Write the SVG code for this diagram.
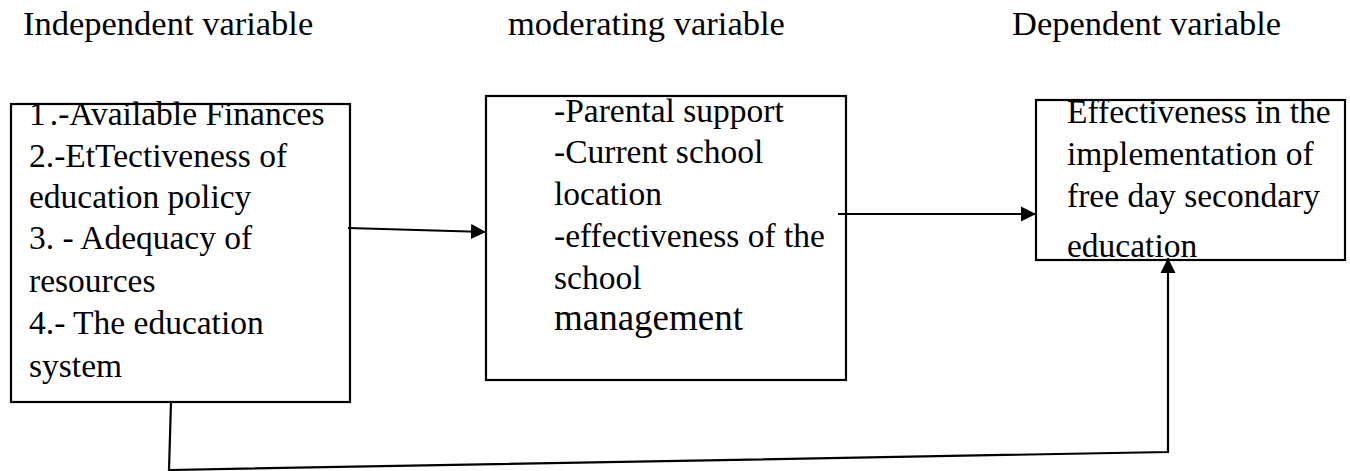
<svg xmlns="http://www.w3.org/2000/svg" width="1350" height="471" viewBox="0 0 1350 471">
  <style>
    .box { fill: #ffffff; stroke: #000000; stroke-width: 2.2; }
    .txt { font-family: "Liberation Serif", "Times New Roman", serif; font-size: 33.5px; fill: #000000; }
    .head { font-family: "Liberation Serif", "Times New Roman", serif; font-size: 34.5px; fill: #000000; }
    .big { font-size: 37px; }
    .conn { fill: none; stroke: #000000; stroke-width: 2.2; }
  </style>
  <defs>
    <marker id="arrow" markerUnits="userSpaceOnUse" markerWidth="16" markerHeight="16" viewBox="0 0 16 16" refX="15" refY="8" orient="auto">
      <path d="M0,0.5 L15,8 L0,15.5 Z" fill="#000000"/>
    </marker>
  </defs>

  <rect width="1350" height="471" fill="#ffffff"/>

  <!-- column headings -->
  <g id="headings">
    <text class="head" x="23" y="35">Independent variable</text>
    <text class="head" x="508" y="35">moderating variable</text>
    <text class="head" x="1012" y="35">Dependent variable</text>
  </g>

  <!-- independent variables -->
  <g id="independent">
    <rect class="box" x="11" y="104" width="339" height="298"/>
    <text class="txt" x="29" y="125">1<tspan dx="4">.-Available Finances</tspan></text>
    <text class="txt" x="29" y="167">2.-EtTectiveness of</text>
    <text class="txt" x="29" y="208">education policy</text>
    <text class="txt" x="29" y="249">3. - Adequacy of</text>
    <text class="txt" x="29" y="292">resources</text>
    <text class="txt" x="29" y="334">4.- The education</text>
    <text class="txt" x="29" y="377">system</text>
  </g>

  <!-- moderating variables -->
  <g id="moderating">
    <rect class="box" x="486" y="96" width="360" height="284"/>
    <text class="txt" x="554" y="122">-Parental support</text>
    <text class="txt" x="554" y="163">-Current school</text>
    <text class="txt" x="554" y="205">location</text>
    <text class="txt" x="554" y="247">-effectiveness of the</text>
    <text class="txt" x="554" y="289">school</text>
    <text class="txt big" x="554" y="330">management</text>
  </g>

  <!-- dependent variable -->
  <g id="dependent">
    <rect class="box" x="1036" y="100" width="309" height="160"/>
    <text class="txt" x="1067" y="123">Effectiveness in the</text>
    <text class="txt" x="1067" y="165">implementation of</text>
    <text class="txt" x="1067" y="207">free day secondary</text>
    <text class="txt" x="1067" y="257">education</text>
  </g>

  <!-- connectors -->
  <g id="connectors">
    <line class="conn" x1="348" y1="228" x2="486" y2="232" marker-end="url(#arrow)"/>
    <line class="conn" x1="838" y1="214" x2="1036" y2="214" marker-end="url(#arrow)"/>
    <polyline class="conn" points="171,402 169,470 1168,452 1168,258" marker-end="url(#arrow)"/>
  </g>
</svg>
